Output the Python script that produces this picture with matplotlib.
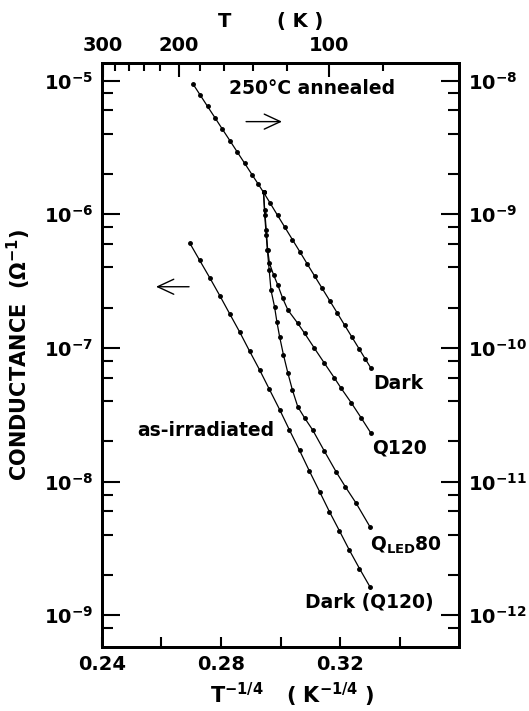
import numpy as np
import matplotlib
matplotlib.use('Agg')
import matplotlib.pyplot as plt
from matplotlib.ticker import FixedLocator, LogLocator, NullFormatter, FuncFormatter

# x values are T^-1/4 (K^-1/4), y values are log10 of conductance
# 250C annealed, dark (right axis)
ann_dark_x = [0.2707, 0.2730, 0.2755, 0.2780, 0.2805, 0.2830, 0.2855, 0.2880, 0.2905,
              0.2925, 0.2943, 0.2965, 0.2990, 0.3015, 0.3040, 0.3065, 0.3090, 0.3115,
              0.3140, 0.3165, 0.3190, 0.3215, 0.3240, 0.3265, 0.3285, 0.3304]
ann_dark_logG = [-8.028, -8.107, -8.193, -8.278, -8.364, -8.449, -8.535, -8.620, -8.706,
                 -8.774, -8.836, -8.916, -9.008, -9.099, -9.190, -9.281, -9.373, -9.464,
                 -9.555, -9.646, -9.737, -9.829, -9.920, -10.011, -10.084, -10.153]

# annealed, Q120 (right axis)
q120_x = [0.2943, 0.2947, 0.2952, 0.2957, 0.2963, 0.2977, 0.2991, 0.3007, 0.3025,
          0.3058, 0.3081, 0.3114, 0.3147, 0.3181, 0.3203, 0.3238, 0.3271, 0.3304]
q120_logG = [-8.836, -8.969, -9.118, -9.268, -9.367, -9.455, -9.530, -9.627, -9.717,
             -9.816, -9.891, -10.003, -10.113, -10.225, -10.300, -10.412, -10.524, -10.639]

# annealed, Q_LED 80 (right axis)
qled_x = [0.2943, 0.2947, 0.2952, 0.2956, 0.2962, 0.2968, 0.2980, 0.2988, 0.2997, 0.3010,
          0.3025, 0.3040, 0.3058, 0.3081, 0.3108, 0.3147, 0.3187, 0.3218, 0.3254, 0.3300]
qled_logG = [-8.836, -9.006, -9.156, -9.268, -9.417, -9.567, -9.692, -9.806, -9.916, -10.053,
             -10.190, -10.315, -10.440, -10.524, -10.614, -10.771, -10.928, -11.040, -11.162, -11.337]

# as-irradiated, dark (left axis)
irr_x = [0.2696, 0.2729, 0.2763, 0.2796, 0.2829, 0.2863, 0.2896, 0.2930, 0.2963, 0.2997,
         0.3030, 0.3064, 0.3097, 0.3131, 0.3164, 0.3198, 0.3231, 0.3265, 0.3300]
irr_logG = [-6.218, -6.346, -6.477, -6.608, -6.743, -6.881, -7.023, -7.165, -7.311, -7.461,
            -7.614, -7.767, -7.921, -8.074, -8.224, -8.369, -8.512, -8.650, -8.786]

# top axis temperatures (K)
temp_major = [300, 200, 100]
temp_minor = [280, 260, 240, 220, 180, 160, 140, 120, 80]

plt.rcParams['font.family'] = ['DejaVu Sans']
plt.rcParams['font.weight'] = 'bold'
plt.rcParams['mathtext.fontset'] = 'custom'
plt.rcParams['mathtext.rm'] = 'DejaVu Sans:bold'
plt.rcParams['mathtext.it'] = 'DejaVu Sans:bold'
plt.rcParams['mathtext.bf'] = 'DejaVu Sans:bold'

fig = plt.figure(figsize=(5.29, 7.11), dpi=100)
ax = fig.add_axes([0.1923, 0.0904, 0.6759, 0.8206])
ax2 = ax.twinx()
ax3 = ax.twiny()

line_kw = dict(color='black', lw=0.9, marker='o', ms=2.5, mfc='black', mec='black')
ax.plot(irr_x, 10 ** np.array(irr_logG), **line_kw)
ax2.plot(ann_dark_x, 10 ** np.array(ann_dark_logG), **line_kw)
ax2.plot(q120_x, 10 ** np.array(q120_logG), **line_kw)
ax2.plot(qled_x, 10 ** np.array(qled_logG), **line_kw)

ax.set_xlim(0.24, 0.36)
ax.set_yscale('log')
ax2.set_yscale('log')
ax.set_ylim(10 ** -9.235, 10 ** -4.871)
ax2.set_ylim(10 ** -12.235, 10 ** -7.871)

# bottom axis
ax.xaxis.set_major_locator(FixedLocator([0.24, 0.26, 0.28, 0.30, 0.32, 0.34]))
ax.xaxis.set_major_formatter(FuncFormatter(
    lambda v, p: '%.2f' % v if round(v * 100) % 4 == 0 else ''))
ax.tick_params(axis='x', which='major', direction='in', length=7, width=1.5,
               labelsize=14, pad=6)

# left / right log axes; minor ticks at 2,4,6,8 inside the drawn range
fmt = FuncFormatter(lambda v, p: r'10$^{%d}$' % round(np.log10(v)))
for a, side in ((ax, 'left'), (ax2, 'right')):
    lo, hi = a.get_ylim()
    minors = [m * 10.0 ** e for e in range(-13, -3) for m in (2, 4, 6, 8)]
    minors = [v for v in minors if lo * 1.15 < v < hi]
    a.yaxis.set_major_locator(LogLocator(base=10, numticks=20))
    a.yaxis.set_minor_locator(FixedLocator(minors))
    a.yaxis.set_major_formatter(fmt)
    a.yaxis.set_minor_formatter(NullFormatter())
    a.tick_params(axis='y', which='major', direction='in', length=13, width=1.5,
                  labelsize=14, pad=6)
    a.tick_params(axis='y', which='minor', direction='in', length=8, width=1.5)

# top temperature axis
ax3.set_xlim(0.24, 0.36)
ax3.xaxis.set_major_locator(FixedLocator([t ** -0.25 for t in temp_major]))
ax3.xaxis.set_minor_locator(FixedLocator([t ** -0.25 for t in temp_minor]))
ax3.set_xticklabels([str(t) for t in temp_major])
ax3.tick_params(axis='x', which='major', direction='in', length=10, width=1.5,
                labelsize=14, pad=6)
ax3.tick_params(axis='x', which='minor', direction='in', length=6, width=1.5)

for a in (ax, ax2, ax3):
    for s in a.spines.values():
        s.set_linewidth(2)

ax.set_ylabel(r'CONDUCTANCE  (Ω$^{-1}$)', fontsize=15, fontweight='bold', labelpad=8)

# axis titles
fig.text(237 / 529, 1 - 703 / 711, r'T$^{-1/4}$', ha='center', va='baseline', fontsize=15)
fig.text(330 / 529, 1 - 703 / 711, r'( K$^{-1/4}$ )', ha='center', va='baseline', fontsize=15)
fig.text(225 / 529, 1 - 27 / 711, 'T', ha='center', va='baseline', fontsize=14)
fig.text(300 / 529, 1 - 27 / 711, '( K )', ha='center', va='baseline', fontsize=14)

# annotations
ax.text(0.355, 0.957, '250°C annealed', transform=ax.transAxes, ha='left',
        va='center', fontsize=13.5)
ax.annotate('', xy=(0.512, 0.900), xytext=(0.396, 0.900), xycoords='axes fraction',
            arrowprops=dict(arrowstyle='->,head_length=0.58,head_width=0.27',
                            lw=1.0, color='black', mutation_scale=20))
ax.annotate('', xy=(0.144, 0.617), xytext=(0.252, 0.617), xycoords='axes fraction',
            arrowprops=dict(arrowstyle='->,head_length=0.58,head_width=0.27',
                            lw=1.0, color='black', mutation_scale=20))
ax.text(0.292, 0.371, 'as-irradiated', transform=ax.transAxes, ha='center',
        va='center', fontsize=13.5)
ax.text(0.760, 0.452, 'Dark', transform=ax.transAxes, ha='left', va='center', fontsize=13.5)
ax.text(0.755, 0.341, 'Q120', transform=ax.transAxes, ha='left', va='center', fontsize=13.5)
ax.text(0.750, 0.174, r'Q$_{\mathrm{LED}}$80', transform=ax.transAxes, ha='left',
        va='center', fontsize=13.5)
ax.text(0.569, 0.075, 'Dark (Q120)', transform=ax.transAxes, ha='left', va='center',
        fontsize=13.5)

fig.savefig('out.png', dpi=100)
